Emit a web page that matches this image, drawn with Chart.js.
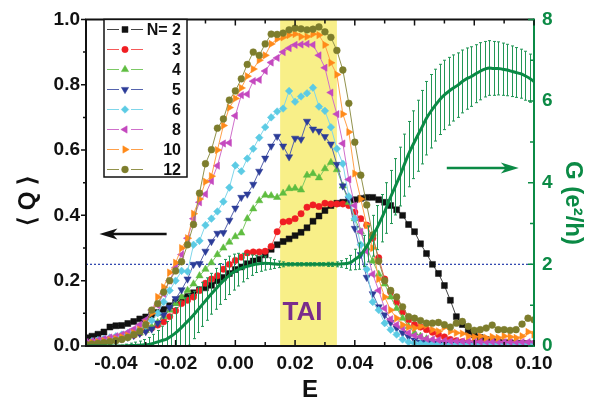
<!DOCTYPE html>
<html><head><meta charset="utf-8">
<script src="https://cdn.jsdelivr.net/npm/chart.js@4/dist/chart.umd.min.js"></script>
<style>html,body{margin:0;padding:0;background:#fff}#wrap{width:604px;height:405px}</style>
</head><body><div id="wrap"><canvas id="c" width="604" height="405"></canvas></div>
<script>
// ---------- DATA ----------
const E = [
 -0.050,-0.048,-0.046,-0.044,-0.042,-0.040,-0.038,-0.036,-0.034,-0.032,
 -0.030,-0.028,-0.026,-0.024,-0.022,-0.020,-0.018,-0.016,-0.014,-0.012,
 -0.010,-0.008,-0.006,-0.004,-0.002, 0.000, 0.002, 0.004, 0.006, 0.008,
  0.010, 0.012, 0.014, 0.016, 0.018, 0.020, 0.022, 0.024, 0.026, 0.028,
  0.030, 0.032, 0.034, 0.036, 0.038, 0.040, 0.042, 0.044, 0.046, 0.048,
  0.050, 0.052, 0.054, 0.056, 0.058, 0.060, 0.062, 0.064, 0.066, 0.068,
  0.070, 0.072, 0.074, 0.076, 0.078, 0.080, 0.082, 0.084, 0.086, 0.088,
  0.090, 0.092, 0.094, 0.096, 0.098, 0.100];

const Q_N2 = [
 0.025,0.030,0.036,0.043,0.058,0.062,0.063,0.069,0.075,0.083,
 0.089,0.095,0.103,0.112,0.123,0.134,0.145,0.152,0.163,0.172,
 0.178,0.186,0.200,0.210,0.222,0.234,0.242,0.252,0.260,0.266,
 0.279,0.296,0.310,0.320,0.328,0.338,0.348,0.362,0.382,0.398,
 0.415,0.430,0.437,0.440,0.442,0.448,0.452,0.455,0.455,0.448,
 0.440,0.430,0.417,0.400,0.372,0.350,0.313,0.283,0.250,0.222,
 0.185,0.140,0.090,0.066,0.045,0.034,0.026,0.020,0.015,0.012,
 0.010,0.010,0.008,0.008,0.007,0.006];
const Q_N3 = [
 0.010,0.012,0.014,0.016,0.018,0.020,0.024,0.028,0.033,0.040,
 0.048,0.055,0.064,0.074,0.090,0.108,0.130,0.140,0.150,0.170,
 0.192,0.205,0.215,0.235,0.250,0.262,0.272,0.285,0.288,0.288,
 0.290,0.305,0.350,0.380,0.382,0.390,0.405,0.425,0.432,0.427,
 0.437,0.435,0.435,0.435,0.430,0.410,0.390,0.370,0.330,0.270,
 0.205,0.165,0.134,0.104,0.080,0.065,0.058,0.050,0.042,0.035,
 0.028,0.020,0.016,0.013,0.011,0.010,0.010,0.009,0.009,0.008,
 0.008,0.008,0.007,0.007,0.007,0.006];
const Q_N4 = [
 0.006,0.008,0.010,0.013,0.016,0.020,0.024,0.028,0.034,0.040,
 0.048,0.058,0.072,0.090,0.110,0.130,0.150,0.170,0.190,0.215,
 0.235,0.255,0.280,0.300,0.318,0.335,0.346,0.390,0.420,0.445,
 0.462,0.460,0.455,0.468,0.482,0.483,0.478,0.523,0.528,0.515,
 0.543,0.562,0.540,0.490,0.440,0.390,0.350,0.300,0.260,0.220,
 0.190,0.150,0.115,0.085,0.060,0.040,0.030,0.022,0.016,0.012,
 0.010,0.009,0.008,0.008,0.007,0.007,0.006,0.006,0.006,0.005,
 0.005,0.005,0.005,0.005,0.005,0.005];
const Q_N5 = [
 0.010,0.012,0.014,0.016,0.018,0.020,0.023,0.027,0.032,0.038,
 0.044,0.052,0.070,0.095,0.118,0.145,0.172,0.205,0.250,0.252,
 0.290,0.320,0.345,0.347,0.385,0.422,0.455,0.465,0.495,0.535,
 0.575,0.612,0.642,0.612,0.579,0.636,0.633,0.688,0.664,0.658,
 0.641,0.618,0.556,0.490,0.450,0.360,0.280,0.210,0.160,0.120,
 0.095,0.072,0.055,0.040,0.028,0.018,0.012,0.010,0.008,0.007,
 0.006,0.006,0.006,0.005,0.005,0.005,0.005,0.005,0.005,0.005,
 0.005,0.005,0.005,0.005,0.005,0.005];
const Q_N6 = [
 0.012,0.015,0.018,0.022,0.026,0.030,0.035,0.040,0.046,0.052,
 0.062,0.078,0.100,0.135,0.170,0.200,0.230,0.228,0.310,0.322,
 0.370,0.390,0.412,0.442,0.485,0.553,0.535,0.574,0.604,0.638,
 0.670,0.700,0.718,0.727,0.781,0.748,0.764,0.774,0.791,0.733,
 0.720,0.670,0.604,0.558,0.458,0.390,0.310,0.235,0.135,0.110,
 0.070,0.050,0.035,0.020,0.012,0.008,0.007,0.006,0.006,0.005,
 0.005,0.005,0.005,0.005,0.005,0.005,0.005,0.005,0.005,0.005,
 0.005,0.005,0.005,0.005,0.005,0.005];
const Q_N8 = [
 0.012,0.015,0.018,0.022,0.026,0.030,0.035,0.042,0.052,0.065,
 0.080,0.110,0.125,0.160,0.200,0.240,0.280,0.330,0.390,0.440,
 0.465,0.505,0.552,0.620,0.622,0.705,0.768,0.771,0.811,0.815,
 0.842,0.868,0.882,0.900,0.912,0.922,0.923,0.925,0.922,0.890,
 0.852,0.776,0.710,0.620,0.510,0.430,0.350,0.290,0.220,0.170,
 0.115,0.082,0.065,0.055,0.040,0.032,0.028,0.022,0.020,0.018,
 0.016,0.015,0.015,0.014,0.014,0.014,0.013,0.013,0.013,0.013,
 0.012,0.012,0.012,0.012,0.012,0.012];
const Q_N10 = [
 0.008,0.010,0.012,0.015,0.018,0.022,0.027,0.032,0.040,0.050,
 0.070,0.100,0.150,0.180,0.225,0.255,0.300,0.330,0.405,0.450,
 0.503,0.520,0.600,0.675,0.730,0.758,0.790,0.826,0.848,0.875,
 0.890,0.925,0.940,0.945,0.952,0.955,0.947,0.947,0.955,0.952,
 0.922,0.867,0.831,0.710,0.655,0.528,0.450,0.370,0.300,0.205,
 0.150,0.110,0.085,0.065,0.058,0.055,0.060,0.064,0.050,0.045,
 0.058,0.045,0.040,0.038,0.030,0.028,0.030,0.025,0.028,0.025,
 0.030,0.028,0.025,0.030,0.043,0.035];
const Q_N12 = [
 0.005,0.006,0.008,0.010,0.013,0.016,0.020,0.026,0.035,0.045,
 0.065,0.110,0.130,0.165,0.200,0.230,0.258,0.310,0.372,0.468,
 0.558,0.601,0.667,0.695,0.753,0.781,0.818,0.862,0.900,0.890,
 0.925,0.955,0.954,0.958,0.968,0.973,0.971,0.968,0.970,0.977,
 0.962,0.945,0.905,0.845,0.743,0.624,0.523,0.432,0.340,0.260,
 0.200,0.170,0.150,0.120,0.090,0.085,0.078,0.070,0.070,0.072,
 0.065,0.058,0.070,0.075,0.060,0.048,0.050,0.055,0.064,0.050,
 0.050,0.048,0.050,0.067,0.085,0.080];

// conductance G (right axis), sampled more finely
const G_E = [
 -0.0500,-0.0485,-0.0470,-0.0455,-0.0440,-0.0425,-0.0410,-0.0395,-0.0380,-0.0365,
 -0.0350,-0.0335,-0.0320,-0.0305,-0.0290,-0.0275,-0.0260,-0.0245,-0.0230,-0.0215,
 -0.0200,-0.0185,-0.0170,-0.0155,-0.0140,-0.0125,-0.0110,-0.0095,-0.0080,-0.0065,
 -0.0050,-0.0035,-0.0020,-0.0005, 0.0010, 0.0025, 0.0040, 0.0055, 0.0070, 0.0085,
  0.0100, 0.0115, 0.0130, 0.0145, 0.0160, 0.0175, 0.0190, 0.0205, 0.0220, 0.0235,
  0.0250, 0.0265, 0.0280, 0.0295, 0.0310, 0.0325, 0.0340, 0.0355, 0.0370, 0.0385,
  0.0400, 0.0415, 0.0430, 0.0445, 0.0460, 0.0475, 0.0490, 0.0505, 0.0520, 0.0535,
  0.0550, 0.0565, 0.0580, 0.0595, 0.0610, 0.0625, 0.0640, 0.0655, 0.0670, 0.0685,
  0.0700, 0.0715, 0.0730, 0.0745, 0.0760, 0.0775, 0.0790, 0.0805, 0.0820, 0.0835,
  0.0850, 0.0865, 0.0880, 0.0895, 0.0910, 0.0925, 0.0940, 0.0955, 0.0970, 0.0985,
  0.1000];
const G = [
 0,0,0,0,0,0,0,0,0,0.005,
 0.010,0.015,0.020,0.028,0.040,0.065,0.100,0.135,0.170,0.240,
 0.320,0.420,0.530,0.640,0.760,0.890,1.020,1.150,1.280,1.400,
 1.520,1.630,1.730,1.810,1.870,1.920,1.950,1.980,2.010,2.020,
 2.030,2.020,2.010,2.000,2.000,2.000,2.000,2.000,2.000,2.000,
 2.000,2.000,2.000,2.000,2.000,2.000,2.000,2.010,2.020,2.040,
 2.120,2.200,2.330,2.500,2.700,2.900,3.130,3.380,3.650,3.900,
 4.150,4.430,4.700,4.930,5.150,5.360,5.580,5.750,5.900,6.040,
 6.150,6.240,6.320,6.390,6.480,6.550,6.600,6.670,6.730,6.780,
 6.810,6.800,6.800,6.780,6.760,6.730,6.700,6.670,6.620,6.560,
 6.480];
const G_ERR = [
 0,0,0,0,0,0,0,0,0.02,0.04,
 0.06,0.08,0.10,0.13,0.17,0.22,0.28,0.35,0.43,0.52,
 0.62,0.68,0.66,0.62,0.58,0.56,0.54,0.52,0.50,0.50,
 0.50,0.49,0.47,0.44,0.40,0.35,0.30,0.25,0.21,0.19,
 0.17,0.14,0.11,0.08,0.06,0.04,0.04,0.04,0.04,0.04,
 0.04,0.04,0.04,0.04,0.05,0.05,0.06,0.08,0.12,0.18,
 0.25,0.32,0.38,0.44,0.50,0.54,0.58,0.62,0.65,0.69,
 0.72,0.76,0.80,0.83,0.87,0.90,0.90,0.90,0.88,0.86,
 0.85,0.83,0.81,0.79,0.77,0.75,0.73,0.71,0.70,0.68,
 0.67,0.66,0.65,0.64,0.63,0.62,0.61,0.60,0.60,0.59,
 0.58];

const SERIES_LABELS = ['N= 2','3','4','5','6','8','10','12'];
const X_MAJOR = [-0.04,-0.02,0.00,0.02,0.04,0.06,0.08,0.10];
const X_MAJOR_LABELS = ['-0.04','-0.02','0.00','0.02','0.04','0.06','0.08','0.10'];
const X_MINOR = [-0.05,-0.03,-0.01,0.01,0.03,0.05,0.07,0.09];
const Y_MAJOR = [0.0,0.2,0.4,0.6,0.8,1.0];
const Y_MAJOR_LABELS = ['0.0','0.2','0.4','0.6','0.8','1.0'];
const Y_MINOR = [0.1,0.3,0.5,0.7,0.9];
const G_MAJOR = [0,2,4,6,8];
const G_MAJOR_LABELS = ['0','2','4','6','8'];
const G_MINOR = [1,3,5,7];
const TAI_RANGE = [0.015,0.034];
const Q_THRESHOLD = 0.25;

// ---------- STYLE ----------
const FONT = "Arial, 'Liberation Sans', sans-serif";
const GREEN = '#0b8a45';
const STYLES = [
 {c:'#111111', l:'#444444', p:'rect',     rot:0,   r:4.2},
 {c:'#f01e23', l:'#f55a5a', p:'circle',   rot:0,   r:3.2},
 {c:'#5fbd40', l:'#7cc965', p:'triangle', rot:0,   r:4.2},
 {c:'#2c3c98', l:'#5563ad', p:'triangle', rot:180, r:4.2},
 {c:'#5ccbe4', l:'#7fd6ea', p:'rectRot',  rot:0,   r:3.8},
 {c:'#c449bf', l:'#cf6fcb', p:'triangle', rot:270, r:4.2},
 {c:'#ff8a1a', l:'#ffa04a', p:'triangle', rot:90,  r:4.2},
 {c:'#7d7d2c', l:'#92924c', p:'circle',   rot:0,   r:3.4}
];
const Q_SERIES = [Q_N2,Q_N3,Q_N4,Q_N5,Q_N6,Q_N8,Q_N10,Q_N12];
const toPts = (xs, arr) => arr.map((v,i)=>({x:xs[i], y:v}));

const datasets = Q_SERIES.map((arr,k)=>({
  label: SERIES_LABELS[k],
  data: toPts(E, arr),
  yAxisID:'y',
  borderColor: STYLES[k].l,
  borderWidth: 1,
  backgroundColor: STYLES[k].c,
  pointBackgroundColor: STYLES[k].c,
  pointBorderColor: STYLES[k].c,
  pointBorderWidth: 0.5,
  pointStyle: STYLES[k].p,
  pointRotation: STYLES[k].rot,
  pointRadius: STYLES[k].r,
  order: 10 - k
}));
const G_INDEX = datasets.length;
datasets.push({
  label:'G', data: toPts(G_E, G), yAxisID:'y2',
  borderColor: GREEN, borderWidth: 3, pointRadius: 0,
  cubicInterpolationMode:'monotone', order: 0
});
datasets.push({
  label:'threshold', data:[{x:E[0], y:Q_THRESHOLD},{x:E[E.length-1], y:Q_THRESHOLD}],
  yAxisID:'y', borderColor:'#3349b0', borderWidth:1.3, borderDash:[2,2],
  pointRadius:0, order: 30
});

function arrow(ctx, xTail, xHead, y, color){
  const dir = Math.sign(xHead - xTail);
  ctx.save();
  ctx.strokeStyle = color; ctx.fillStyle = color; ctx.lineWidth = 2.6;
  ctx.beginPath(); ctx.moveTo(xTail, y); ctx.lineTo(xHead - dir*10, y); ctx.stroke();
  ctx.beginPath();
  ctx.moveTo(xHead, y);
  ctx.lineTo(xHead - dir*18, y - 5.5);
  ctx.lineTo(xHead - dir*13, y);
  ctx.lineTo(xHead - dir*18, y + 5.5);
  ctx.closePath(); ctx.fill();
  ctx.restore();
}

const decor = {
  id:'decor',
  beforeDatasetsDraw(chart){
    const {ctx, chartArea:a, scales:{x}} = chart;
    const x1 = x.getPixelForValue(TAI_RANGE[0]), x2 = x.getPixelForValue(TAI_RANGE[1]);
    ctx.save(); ctx.fillStyle = '#f8ef88';
    ctx.fillRect(x1, a.top, x2-x1, a.bottom-a.top);
    ctx.restore();
  },
  beforeDatasetDraw(chart, args){
    if (args.index !== G_INDEX) return;
    const {ctx, chartArea:a, scales:{x, y2}} = chart;
    ctx.save();
    ctx.beginPath(); ctx.rect(a.left, a.top, a.right-a.left, a.bottom-a.top); ctx.clip();
    ctx.strokeStyle = '#229656'; ctx.lineWidth = 1;
    for (let i=0;i<G_E.length;i++){
      if (!G_ERR[i]) continue;
      const px = Math.round(x.getPixelForValue(G_E[i])) + 0.5;
      const yt = y2.getPixelForValue(G[i] + G_ERR[i]);
      const yb = y2.getPixelForValue(Math.max(0, G[i] - G_ERR[i]));
      ctx.beginPath();
      ctx.moveTo(px, yt); ctx.lineTo(px, yb);
      ctx.moveTo(px-1.5, yt); ctx.lineTo(px+1.5, yt);
      ctx.moveTo(px-1.5, yb); ctx.lineTo(px+1.5, yb);
      ctx.stroke();
    }
    ctx.restore();
  },
  afterDatasetsDraw(chart){
    const {ctx, scales:{x, y, y2}} = chart;
    ctx.save();
    ctx.fillStyle = '#7a2c8c';
    ctx.font = 'bold 26px ' + FONT;
    ctx.textAlign = 'center'; ctx.textBaseline = 'middle';
    ctx.fillText('TAI', x.getPixelForValue(0.0225), y.getPixelForValue(0.103));
    ctx.restore();
    arrow(ctx, x.getPixelForValue(-0.023), x.getPixelForValue(-0.0455), Math.round(y.getPixelForValue(0.342)), '#111');
    arrow(ctx, x.getPixelForValue(0.0708), x.getPixelForValue(0.0949), Math.round(y2.getPixelForValue(4.36)), GREEN);
  },
  afterDraw(chart){
    const {ctx, chartArea:a, scales:{x, y, y2}} = chart;
    ctx.save();
    ctx.lineWidth = 2; ctx.strokeStyle = '#111';
    ctx.beginPath();
    ctx.moveTo(a.right, a.top); ctx.lineTo(a.left, a.top); ctx.lineTo(a.left, a.bottom); ctx.lineTo(a.right, a.bottom);
    ctx.stroke();
    ctx.strokeStyle = GREEN;
    ctx.beginPath(); ctx.moveTo(a.right, a.top-1); ctx.lineTo(a.right, a.bottom+1); ctx.stroke();
    ctx.strokeStyle = '#111'; ctx.lineWidth = 1.5;
    ctx.beginPath();
    X_MAJOR.concat(X_MINOR).forEach((v,i)=>{
      const len = i < X_MAJOR.length ? 6 : 4;
      const px = x.getPixelForValue(v);
      ctx.moveTo(px, a.bottom); ctx.lineTo(px, a.bottom - len);
      ctx.moveTo(px, a.top); ctx.lineTo(px, a.top + len);
    });
    Y_MAJOR.concat(Y_MINOR).forEach((v,i)=>{
      const len = i < Y_MAJOR.length ? 5 : 3;
      const py = y.getPixelForValue(v);
      ctx.moveTo(a.left, py); ctx.lineTo(a.left - len, py);
    });
    ctx.stroke();
    ctx.strokeStyle = GREEN;
    ctx.beginPath();
    G_MAJOR.concat(G_MINOR).forEach((v,i)=>{
      const len = i < G_MAJOR.length ? 6 : 4;
      const py = y2.getPixelForValue(v);
      ctx.moveTo(a.right, py); ctx.lineTo(a.right - len, py);
    });
    ctx.stroke();

    // legend
    const lx0 = 104, ly0 = a.top, lx1 = 187, ly1 = 177;
    ctx.fillStyle = '#fff'; ctx.fillRect(lx0, ly0, lx1-lx0, ly1-ly0);
    ctx.strokeStyle = '#111'; ctx.lineWidth = 1.5; ctx.strokeRect(lx0, ly0, lx1-lx0, ly1-ly0);
    ctx.font = 'bold 16px ' + FONT; ctx.textAlign = 'right'; ctx.textBaseline = 'middle';
    for (let k=0;k<8;k++){
      const ds = chart.data.datasets[k];
      const ry = 29.5 + k*20;
      ctx.strokeStyle = ds.borderColor; ctx.lineWidth = 1.2;
      ctx.beginPath(); ctx.moveTo(107, ry); ctx.lineTo(119, ry); ctx.moveTo(131, ry); ctx.lineTo(143, ry); ctx.stroke();
      ctx.fillStyle = ds.pointBackgroundColor; ctx.strokeStyle = ds.pointBorderColor; ctx.lineWidth = 0.5;
      Chart.helpers.drawPoint(ctx, {pointStyle: ds.pointStyle, rotation: ds.pointRotation, radius: ds.pointRadius, borderWidth: 0.5}, 125, ry);
      ctx.fillStyle = '#111';
      ctx.fillText(ds.label, 181, ry + 1);
    }

    // axis titles
    ctx.fillStyle = '#111'; ctx.textAlign = 'center'; ctx.textBaseline = 'middle';
    ctx.font = 'bold 24px ' + FONT;
    ctx.fillText('E', (a.left + a.right)/2, 390);
    ctx.save(); ctx.translate(28, 201); ctx.rotate(-Math.PI/2);
    ctx.font = 'bold 24px ' + FONT; ctx.fillText('⟨ Q ⟩', 0, 0); ctx.restore();
    ctx.save(); ctx.translate(573, 203); ctx.rotate(Math.PI/2);
    ctx.fillStyle = GREEN; ctx.font = 'bold 24px ' + FONT; ctx.fillText('G (e²/h)', 0, 0); ctx.restore();
    ctx.restore();
  }
};

const tickFont = {family: FONT, size: 19, weight: 'bold'};
new Chart(document.getElementById('c').getContext('2d'), {
  type:'line',
  data:{datasets},
  options:{
    responsive:false, animation:false, devicePixelRatio:1,
    layout:{padding:{top:16,left:0,right:0,bottom:0}},
    plugins:{legend:{display:false}, tooltip:{enabled:false}},
    scales:{
      x:{type:'linear', position:'bottom', min:-0.05, max:0.10,
        afterBuildTicks: s => { s.ticks = X_MAJOR.map(v=>({value:v})); },
        afterFit: s => { s.height = 59; },
        grid:{display:false, drawTicks:false}, border:{display:false},
        ticks:{autoSkip:false, maxRotation:0, padding:6, color:'#111', font:tickFont,
          callback:(v,i)=>X_MAJOR_LABELS[i]}},
      y:{type:'linear', position:'left', min:0, max:1,
        afterBuildTicks: s => { s.ticks = Y_MAJOR.map(v=>({value:v})); },
        afterFit: s => { s.width = 86; },
        grid:{display:false, drawTicks:false}, border:{display:false},
        ticks:{autoSkip:false, padding:6, color:'#111', font:tickFont,
          callback:(v,i)=>Y_MAJOR_LABELS[i]}},
      y2:{type:'linear', position:'right', min:0, max:8,
        afterBuildTicks: s => { s.ticks = G_MAJOR.map(v=>({value:v})); },
        afterFit: s => { s.width = 70; },
        grid:{display:false, drawTicks:false}, border:{display:false},
        ticks:{autoSkip:false, padding:8, color:GREEN, font:tickFont,
          callback:(v,i)=>G_MAJOR_LABELS[i]}}
    }
  },
  plugins:[decor]
});
</script>
</body></html>
